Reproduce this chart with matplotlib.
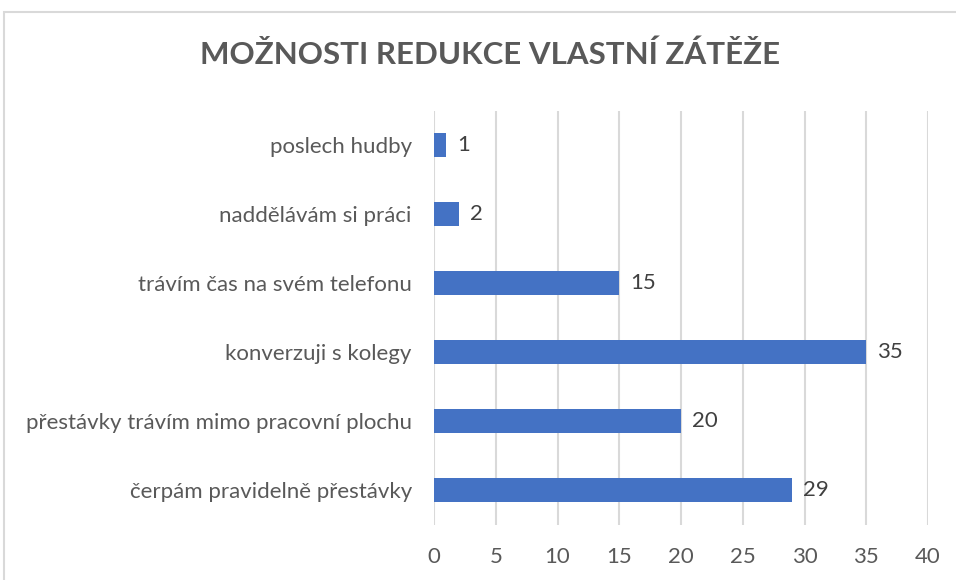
import matplotlib
matplotlib.use("Agg")
import matplotlib.pyplot as plt
from matplotlib.patches import Rectangle

categories = ["čerpám pravidelně přestávky", "přestávky trávím mimo pracovní plochu",
              "konverzuji s kolegy", "trávím čas na svém telefonu",
              "naddělávám si práci", "poslech hudby"]
values = [29, 20, 35, 15, 2, 1]
xticks = [0, 5, 10, 15, 20, 25, 30, 35, 40]
title = "MOŽNOSTI REDUKCE VLASTNÍ ZÁTĚŽE"

plt.rcParams['font.family'] = ['Lato', 'DejaVu Sans']
fig = plt.figure(figsize=(9.56, 5.8), dpi=100)
ax = fig.add_axes([434/956, 1-524.5/580, (928-434)/956, (524.5-110.5)/580])

ax.barh(range(len(categories)), values, height=0.35, color="#4472C4", zorder=3)
for i, v in enumerate(values):
    ax.text(v + 0.9, i, str(v), va="center", ha="left", fontsize=16, color="#404040")

ax.set_xlim(0, 40)
ax.set_ylim(-0.5, len(categories) - 0.5)
ax.set_xticks(xticks)
ax.set_xticklabels([str(t) for t in xticks], fontsize=16, color="#595959")
ax.set_yticks(range(len(categories)))
ax.set_yticklabels(categories, fontsize=16, color="#595959")
ax.tick_params(axis="x", length=0, pad=16)
ax.tick_params(axis="y", length=0, pad=16)
ax.grid(axis="x", color="#D9D9D9", linewidth=1.5, zorder=0)
for s in ax.spines.values():
    s.set_visible(False)

fig.text(490/956, 1-55/580, title, ha="center", va="center", fontsize=22.5,
         fontweight="bold", color="#595959")

fig.patches.append(Rectangle((4/956, -0.05), 1.2, 1-12/580 + 0.05, transform=fig.transFigure,
                             fill=False, edgecolor="#D9D9D9", linewidth=1.5))

fig.savefig("out.png", dpi=100)
